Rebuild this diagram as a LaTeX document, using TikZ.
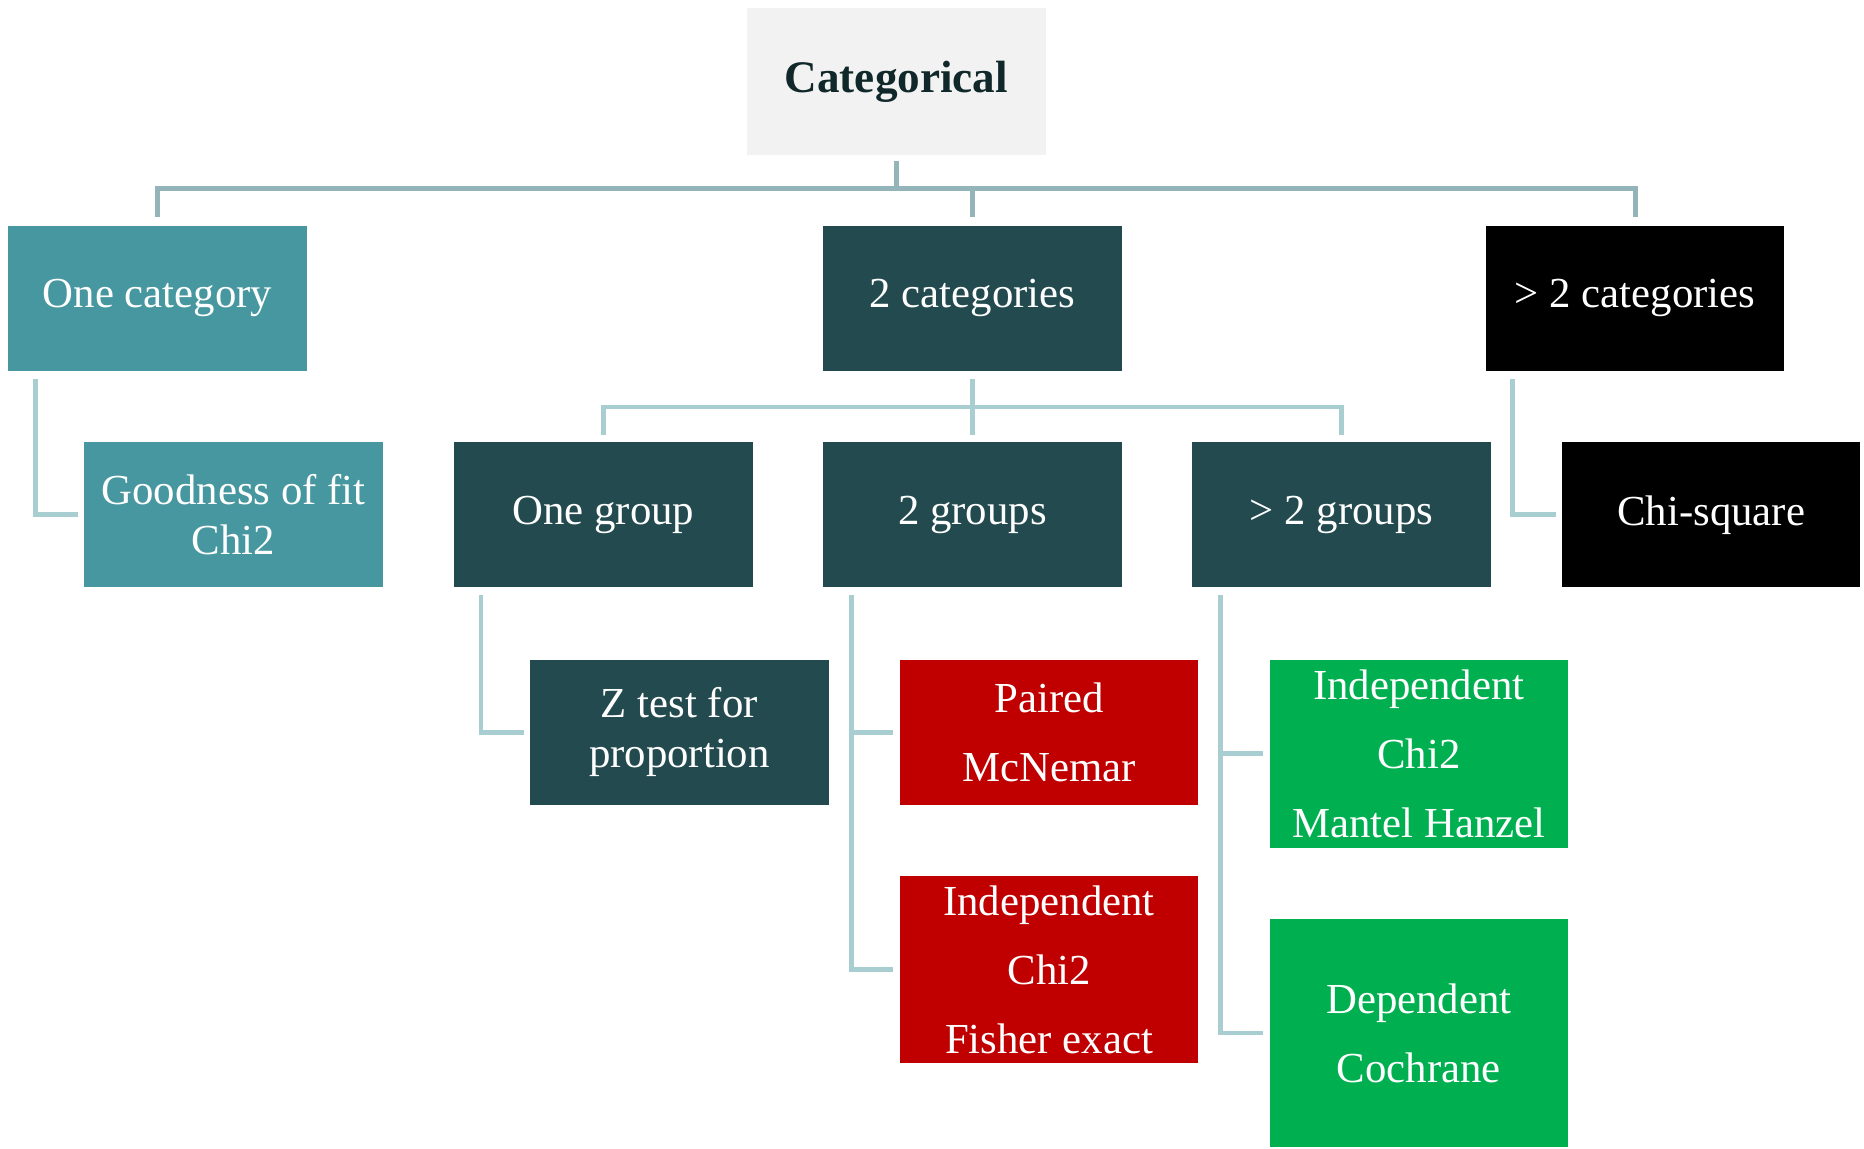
\documentclass[tikz,border=0pt]{standalone}
\usepackage{fontspec}
\setmainfont{Liberation Serif}
\begin{document}
\definecolor{tealbox}{HTML}{46979F}
\definecolor{darkbox}{HTML}{234B4F}
\definecolor{redbox}{HTML}{C00000}
\definecolor{greenbox}{HTML}{00B050}
\definecolor{topbox}{HTML}{F2F2F2}
\definecolor{toptext}{HTML}{10282A}
\definecolor{linetop}{HTML}{93B5B9}
\definecolor{linelow}{HTML}{A9CED2}
\begin{tikzpicture}[
  box/.style={rectangle, inner sep=0pt, minimum width=125.5pt, minimum height=61pt,
    text=white, align=center, font=\fontsize{18}{21}\selectfont},
  tall/.style={font=\fontsize{18}{29}\selectfont},
  conn/.style={draw=linelow, line width=2pt},
  conntop/.style={draw=linetop, line width=2.2pt},
]
\useasboundingbox (0,0) rectangle (784pt,-483pt);

% root
\node[box, fill=topbox, text=toptext, minimum width=126pt, minimum height=61.5pt,
  font=\fontsize{19}{21}\selectfont\bfseries] (cat) at (377pt,-34.25pt) {Categorical};

% first level
\node[box, fill=tealbox] (onecat) at (66.25pt,-125.5pt) {One category};
\node[box, fill=darkbox] (twocat) at (409pt,-125.5pt) {2 categories};
\node[box, fill=black] (gtcat) at (687.75pt,-125.5pt) {> 2 categories};

% second level
\node[box, fill=tealbox] (gof) at (98.25pt,-216.5pt) {Goodness of fit\\Chi2};
\node[box, fill=darkbox] (onegrp) at (253.75pt,-216.5pt) {One group};
\node[box, fill=darkbox] (twogrp) at (409pt,-216.5pt) {2 groups};
\node[box, fill=darkbox] (gtgrp) at (564.25pt,-216.5pt) {> 2 groups};
\node[box, fill=black] (chisq) at (719.75pt,-216.5pt) {Chi-square};

% tests
\node[box, fill=darkbox] (ztest) at (285.75pt,-308pt) {Z test for\\proportion};
\node[box, tall, fill=redbox] (paired) at (441.25pt,-308pt) {Paired\\McNemar};
\node[box, tall, fill=redbox, minimum height=78.5pt] (indep2) at (441.25pt,-407.75pt)
  {Independent\\Chi2\\Fisher exact};
\node[box, tall, fill=greenbox, minimum height=79pt] (indep3) at (596.75pt,-317pt)
  {Independent\\Chi2\\Mantel Hanzel};
\node[box, tall, fill=greenbox, minimum height=96pt] (dep) at (596.75pt,-434.5pt)
  {Dependent\\Cochrane};

% root to first level
\coordinate (bus1) at ([yshift=-14pt]cat.south);
\draw[conntop] ([yshift=-2.5pt]cat.south) -- (bus1);
\draw[conntop] ([yshift=3.5pt]onecat.north) |- (bus1) -| ([yshift=3.5pt]gtcat.north);
\draw[conntop] (bus1 -| twocat.north) -- ([yshift=3.5pt]twocat.north);

% 2 categories to groups
\coordinate (bus2) at ([yshift=-15pt]twocat.south);
\draw[conn] ([yshift=-3pt]twocat.south) -- ([yshift=3pt]twogrp.north);
\draw[conn] ([yshift=3pt]onegrp.north) |- (bus2) -| ([yshift=3pt]gtgrp.north);

% elbow connectors
\draw[conn] ([xshift=11.5pt,yshift=-3pt]onecat.south west) |- ([xshift=-2.5pt]gof.west);
\draw[conn] ([xshift=11.5pt,yshift=-3pt]gtcat.south west) |- ([xshift=-2.5pt]chisq.west);
\draw[conn] ([xshift=11.5pt,yshift=-3pt]onegrp.south west) |- ([xshift=-2.5pt]ztest.west);

\coordinate (s2) at ([xshift=12pt,yshift=-3pt]twogrp.south west);
\draw[conn] (s2) |- ([xshift=-2.5pt]indep2.west);
\draw[conn] ([xshift=-2.5pt]paired.west) -- (s2 |- paired.west);

\coordinate (s3) at ([xshift=12pt,yshift=-3pt]gtgrp.south west);
\draw[conn] (s3) |- ([xshift=-2.5pt]dep.west);
\draw[conn] ([xshift=-2.5pt]indep3.west) -- (s3 |- indep3.west);
\end{tikzpicture}
\end{document}
